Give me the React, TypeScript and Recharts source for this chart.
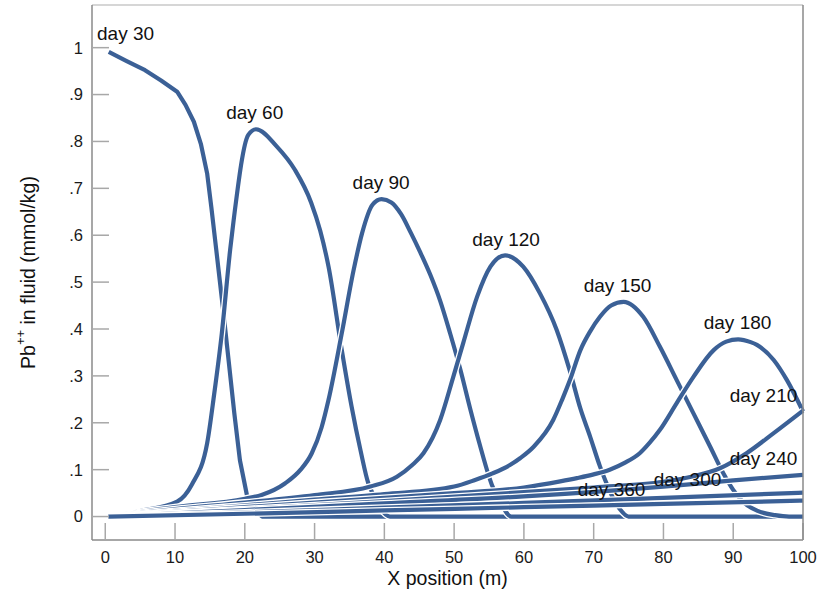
import React from "react";
import { LineChart, Line, XAxis, YAxis, ReferenceDot } from "recharts";

// Pb++ concentration profiles along the column
const D30_X = [0.5, 3, 5.7, 8, 10.3, 11.5, 12.7, 13.7, 14.6, 15.2, 15.9, 16.9, 17.7, 18.5, 19.3, 20.3, 21.2, 22.5, 100];
const D30_Y = [0.991, 0.972, 0.952, 0.93, 0.906, 0.878, 0.842, 0.795, 0.732, 0.66, 0.57, 0.44, 0.33, 0.22, 0.12, 0.046, 0.015, 0, 0];

const D60_X = [0.5, 5, 10.3, 12.4, 14.6, 15.6, 16.7, 17.9, 18.4, 20.5, 21.6, 24.6, 27.2, 29.5, 30.8, 32.0, 33.9, 35.3, 36.6, 37.7, 38.2, 39.4, 40.8, 100];
const D60_Y = [0, 0.012, 0.032, 0.068, 0.156, 0.26, 0.39, 0.569, 0.632, 0.814, 0.826, 0.789, 0.739, 0.67, 0.61, 0.533, 0.355, 0.235, 0.14, 0.071, 0.053, 0.018, 0, 0];

const D90_X = [0.5, 10, 20, 22.4, 25.8, 28, 29.6, 31, 32.0, 33.9, 35.6, 36.8, 38.3, 39.6, 41.0, 42.4, 43.8, 45.1, 46.6, 48.0, 49.4, 50.9, 52.3, 53.7, 54.9, 55.4, 56.8, 58.2, 100];
const D90_Y = [0, 0.02, 0.038, 0.046, 0.071, 0.1, 0.135, 0.19, 0.249, 0.391, 0.526, 0.604, 0.665, 0.677, 0.67, 0.645, 0.605, 0.565, 0.515, 0.46, 0.392, 0.313, 0.23, 0.152, 0.09, 0.068, 0.025, 0, 0];

const D120_X = [0.5, 10, 20, 30, 38.0, 41.8, 44, 45.6, 48.0, 49.9, 51.3, 53.3, 55.2, 57.3, 59.9, 62.3, 64.7, 66.6, 68.1, 69.5, 70.9, 72.0, 72.6, 73.8, 75, 100];
const D120_Y = [0, 0.016, 0.03, 0.046, 0.064, 0.085, 0.11, 0.135, 0.206, 0.299, 0.37, 0.469, 0.533, 0.557, 0.533, 0.476, 0.398, 0.31, 0.23, 0.17, 0.107, 0.065, 0.045, 0.015, 0, 0];

const D150_X = [0.5, 10, 20, 30, 40, 50, 53, 55.5, 58, 59.5, 61.4, 64.2, 65.5, 66.6, 68.1, 69.5, 70.9, 72.5, 74.3, 77.1, 79.5, 81.9, 84.3, 86.7, 88.6, 90, 91.5, 93.5, 96, 98, 100];
const D150_Y = [0, 0.012, 0.024, 0.036, 0.048, 0.064, 0.078, 0.092, 0.11, 0.125, 0.149, 0.206, 0.25, 0.291, 0.355, 0.395, 0.426, 0.45, 0.458, 0.426, 0.362, 0.291, 0.22, 0.149, 0.092, 0.057, 0.03, 0.012, 0.003, 0, 0];

const D180_X = [0.5, 10, 20, 30, 40, 50, 60, 65.2, 67.6, 70, 72.3, 74.5, 76.6, 78, 79.5, 81.9, 84.3, 87.2, 89, 90.7, 92.5, 93.4, 95.8, 97.7, 100];
const D180_Y = [0, 0.01, 0.02, 0.03, 0.04, 0.05, 0.062, 0.075, 0.082, 0.09, 0.1, 0.115, 0.135, 0.157, 0.185, 0.242, 0.298, 0.355, 0.373, 0.378, 0.372, 0.366, 0.334, 0.291, 0.224];

const D210_X = [0.5, 20, 40, 60, 70, 80, 84.3, 88.1, 91.9, 95.8, 100];
const D210_Y = [0, 0.016, 0.033, 0.052, 0.062, 0.074, 0.086, 0.103, 0.135, 0.178, 0.226];

const D240_X = [0.5, 20, 40, 60, 80, 90, 100];
const D240_Y = [0, 0.014, 0.028, 0.043, 0.064, 0.077, 0.089];

const D300_X = [0.5, 20, 40, 60, 80, 100];
const D300_Y = [0, 0.009, 0.019, 0.029, 0.04, 0.051];

const D360_X = [0.5, 20, 40, 60, 80, 100];
const D360_Y = [0, 0.006, 0.013, 0.02, 0.027, 0.034];

// day 30 keeps its visible kinks, the rest are drawn smooth
const SERIES = [
  { name: "day 30", xs: D30_X, ys: D30_Y, curve: "linear" },
  { name: "day 60", xs: D60_X, ys: D60_Y, curve: "monotone" },
  { name: "day 90", xs: D90_X, ys: D90_Y, curve: "monotone" },
  { name: "day 120", xs: D120_X, ys: D120_Y, curve: "monotone" },
  { name: "day 150", xs: D150_X, ys: D150_Y, curve: "monotone" },
  { name: "day 180", xs: D180_X, ys: D180_Y, curve: "monotone" },
  { name: "day 210", xs: D210_X, ys: D210_Y, curve: "monotone" },
  { name: "day 240", xs: D240_X, ys: D240_Y, curve: "monotone" },
  { name: "day 300", xs: D300_X, ys: D300_Y, curve: "monotone" },
  { name: "day 360", xs: D360_X, ys: D360_Y, curve: "monotone" },
];

// curve labels, anchored in data units
const LABEL_TEXT = ["day 30", "day 60", "day 90", "day 120", "day 150", "day 180", "day 210", "day 240", "day 300", "day 360"];
const LABEL_X = [2.91, 21.42, 39.54, 57.45, 73.42, 90.62, 94.34, 94.34, 83.45, 72.56];
const LABEL_Y = [1.03, 0.863, 0.713, 0.592, 0.494, 0.415, 0.259, 0.125, 0.079, 0.058];

const X_TICKS = [0, 10, 20, 30, 40, 50, 60, 70, 80, 90, 100];
const Y_TICKS = [0, 0.1, 0.2, 0.3, 0.4, 0.5, 0.6, 0.7, 0.8, 0.9, 1];

const FONT = "'Liberation Sans', Arial, sans-serif";
const LINE_COLOR = "#3b6096";
const FRAME = "#8a8a8a";
const TICK = "#a8a8a8";

function fmtY(v: number): string {
  if (v === 0) return "0";
  if (v === 1) return "1";
  return v.toFixed(1).replace(/^0/, "");
}

function XTitle(props: any) {
  const vb = props.viewBox || { x: 92, y: 540, width: 711 };
  return (
    <text
      x={vb.x + vb.width / 2}
      y={vb.y + 38}
      textAnchor="middle"
      dominantBaseline="central"
      fontFamily={FONT}
      fontSize={19.5}
      fill="#111"
    >
      X position (m)
    </text>
  );
}

function YTitle(props: any) {
  const vb = props.viewBox || { x: 0, y: 5, width: 92, height: 535 };
  const cx = vb.x + vb.width - 64;
  const cy = vb.y + vb.height / 2;
  return (
    <text
      x={cx}
      y={cy}
      transform={`rotate(-90 ${cx} ${cy})`}
      textAnchor="middle"
      dominantBaseline="central"
      fontFamily={FONT}
      fontSize={19.5}
      fill="#111"
    >
      Pb
      <tspan dy={-8} fontSize={13}>++</tspan>
      <tspan dy={8}> in fluid (mmol/kg)</tspan>
    </text>
  );
}

export default function App() {
  const lines = SERIES.map((s) => ({
    name: s.name,
    curve: s.curve as any,
    points: s.xs.map((x, i) => ({ x, y: s.ys[i] })),
  }));

  return (
    <div style={{ position: "absolute", left: 0, top: 0, background: "#fff" }}>
      <LineChart
        width={818}
        height={591}
        margin={{ top: 0, right: 0, bottom: 0, left: 0 }}
      >
        <XAxis
          xAxisId="b"
          dataKey="x"
          type="number"
          domain={[-1.9, 100]}
          ticks={X_TICKS}
          height={51}
          tickSize={-17}
          tickMargin={28}
          interval={0}
          axisLine={{ stroke: FRAME, strokeWidth: 1.5 }}
          tickLine={{ stroke: TICK, strokeWidth: 1.5 }}
          tick={{ fill: "#1a1a1a", fontSize: 16.5, fontFamily: FONT }}
          label={(p: any) => <XTitle {...p} />}
        />
        <XAxis
          xAxisId="t"
          orientation="top"
          dataKey="x"
          type="number"
          domain={[-1.9, 100]}
          ticks={X_TICKS}
          height={5}
          tickSize={-17}
          interval={0}
          tick={false}
          axisLine={{ stroke: "#c8c8c8", strokeWidth: 1.5 }}
          tickLine={{ stroke: TICK, strokeWidth: 1.5 }}
        />
        <YAxis
          yAxisId="l"
          type="number"
          domain={[-0.05, 1.091]}
          ticks={Y_TICKS}
          width={92}
          tickSize={-17}
          tickMargin={26}
          interval={0}
          tickFormatter={fmtY}
          axisLine={{ stroke: FRAME, strokeWidth: 1.5 }}
          tickLine={{ stroke: TICK, strokeWidth: 1.5 }}
          tick={{ fill: "#1a1a1a", fontSize: 16.5, fontFamily: FONT }}
          label={(p: any) => <YTitle {...p} />}
        />
        <YAxis
          yAxisId="r"
          orientation="right"
          type="number"
          domain={[-0.05, 1.091]}
          ticks={Y_TICKS}
          width={15}
          tickSize={-17}
          interval={0}
          tick={false}
          axisLine={{ stroke: FRAME, strokeWidth: 1.5 }}
          tickLine={{ stroke: TICK, strokeWidth: 1.5 }}
        />
        {lines.flatMap((s) => [
          <Line
            key={s.name + "-halo"}
            xAxisId="b"
            yAxisId="l"
            data={s.points}
            dataKey="y"
            type={s.curve}
            stroke="#ffffff"
            strokeWidth={6.8}
            dot={false}
            activeDot={false}
            isAnimationActive={false}
          />,
          <Line
            key={s.name}
            xAxisId="b"
            yAxisId="l"
            data={s.points}
            dataKey="y"
            type={s.curve}
            stroke={LINE_COLOR}
            strokeWidth={4.2}
            strokeLinejoin="round"
            dot={false}
            activeDot={false}
            isAnimationActive={false}
          />,
        ])}
        {LABEL_TEXT.map((t, i) => (
          <ReferenceDot
            key={t}
            xAxisId="b"
            yAxisId="l"
            x={LABEL_X[i]}
            y={LABEL_Y[i]}
            r={0}
            fill="none"
            stroke="none"
            ifOverflow="visible"
            label={{
              value: t,
              position: "center",
              fontSize: 19,
              fontFamily: FONT,
              fill: "#111",
            }}
          />
        ))}
      </LineChart>
    </div>
  );
}
